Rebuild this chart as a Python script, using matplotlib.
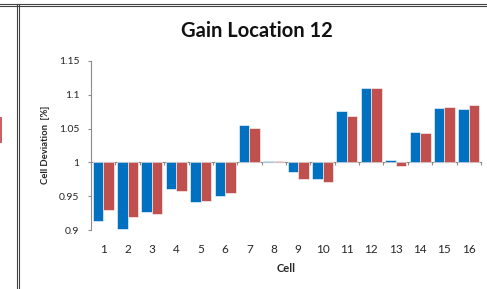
import matplotlib
matplotlib.use("Agg")
import matplotlib.pyplot as plt
from matplotlib.lines import Line2D
from matplotlib.patches import Rectangle
import numpy as np

# values (bars start at 1.0)
cells = [str(i) for i in range(1, 17)]
series_blue = [0.914, 0.902, 0.927, 0.960, 0.942, 0.950, 1.055, 1.002,
               0.986, 0.976, 1.076, 1.110, 1.004, 1.045, 1.080, 1.079]
series_red = [0.929, 0.919, 0.923, 0.957, 0.943, 0.954, 1.051, 1.002,
              0.976, 0.971, 1.069, 1.110, 0.995, 1.044, 1.082, 1.085]
y_ticks = [0.9, 0.95, 1.0, 1.05, 1.1, 1.15]
y_tick_labels = ["0.9", "0.95", "1", "1.05", "1.1", "1.15"]
baseline = 1.0

plt.rcParams["font.family"] = ["Lato", "DejaVu Sans"]

BLUE = "#0070C0"
RED = "#C0504D"
GRAY = "#8c8c8c"
TXT = "#262626"

fig = plt.figure(figsize=(4.87, 2.89), dpi=100)
ax = fig.add_axes([91 / 487, 1 - 230 / 289, 390 / 487, 169 / 289])

x = np.arange(len(cells))
w = 0.43
ax.bar(x - w / 2, np.array(series_blue) - baseline, w, bottom=baseline,
       color=BLUE, edgecolor="white", linewidth=0.4)
ax.bar(x + w / 2, np.array(series_red) - baseline, w, bottom=baseline,
       color=RED, edgecolor="white", linewidth=0.4)

ax.set_xlim(-0.5, len(cells) - 0.5)
ax.set_ylim(y_ticks[0], y_ticks[-1])
ax.set_yticks(y_ticks)
ax.set_yticklabels(y_tick_labels)
ax.set_xticks(x)
ax.set_xticklabels(cells)

for s in ["top", "right", "bottom"]:
    ax.spines[s].set_visible(False)
ax.spines["left"].set_color(GRAY)
ax.spines["left"].set_linewidth(0.8)
ax.tick_params(axis="y", direction="out", length=2.5, width=0.8, color=GRAY,
               labelsize=7.5, pad=6, labelcolor=TXT)
ax.tick_params(axis="x", length=0, labelsize=8.5, pad=10, labelcolor=TXT)

# category axis crossing at 1.0
loc = (baseline - y_ticks[0]) / (y_ticks[-1] - y_ticks[0])
sec = ax.secondary_xaxis(loc)
sec.set_xticks(np.arange(len(cells) + 1) - 0.5)
sec.set_xticklabels([])
sec.spines["bottom"].set_color(GRAY)
sec.spines["bottom"].set_linewidth(0.8)
sec.tick_params(axis="x", direction="out", length=2.5, width=0.8, color=GRAY)

ax.set_xlabel("Cell", fontsize=8, fontweight="bold", color=TXT)
ax.xaxis.set_label_coords(286 / 487, 1 - 268 / 289, transform=fig.transFigure)
ax.xaxis.label.set_va("center")
ax.set_ylabel("Cell Deviation  [%]", fontsize=6.8, fontweight="bold", color=TXT)
ax.yaxis.set_label_coords(45 / 487, 1 - 145 / 289, transform=fig.transFigure)
ax.yaxis.label.set_va("center")

fig.text(257 / 487, 1 - 31 / 289, "Gain Location 12", ha="center", va="center",
         fontsize=14.5, fontweight="bold", color="#111111")

# screenshot frame lines
for yy in (3.5, 5.5):
    fig.add_artist(Line2D([0, 1], [1 - yy / 289] * 2, color="#444444", lw=0.8))
for xx in (17, 19):
    fig.add_artist(Line2D([xx / 487] * 2, [0, 1 - 3.5 / 289], color="#444444", lw=0.8))
fig.add_artist(Rectangle((0, 1 - 143 / 289), 2 / 487, 26 / 289,
                         transform=fig.transFigure, color="#d06060", lw=0))

fig.savefig("out.png", dpi=100)
